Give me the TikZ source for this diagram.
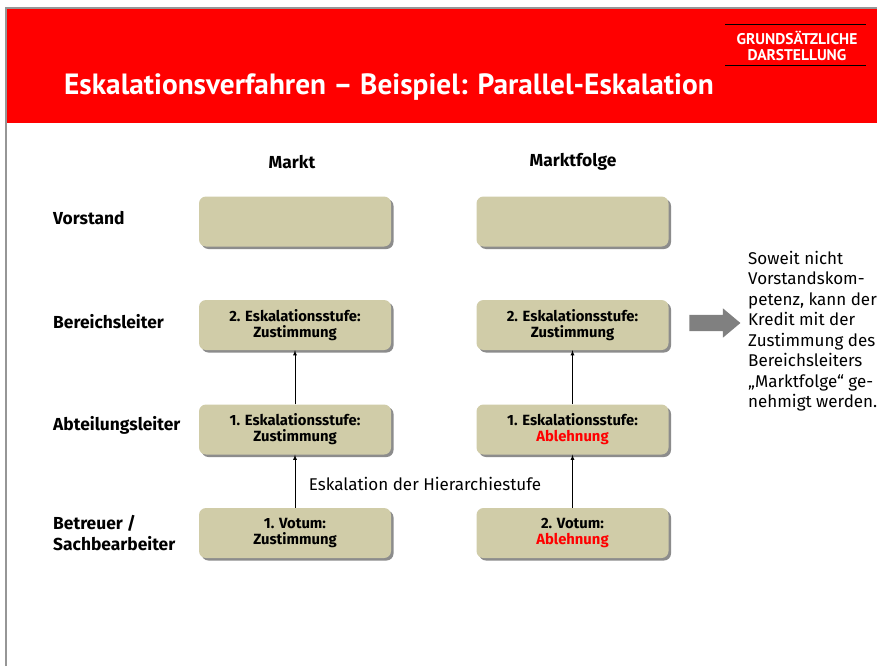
\documentclass[tikz,border=0pt]{standalone}
\usepackage{fontspec}
\setmainfont{Fira Sans}
\newfontfamily\headfont{PT Sans}
\usetikzlibrary{shadows,shapes.arrows}
\definecolor{boxtan}{RGB}{208,204,168}
\definecolor{bannerred}{RGB}{255,0,0}
\definecolor{framegray}{RGB}{150,150,150}
\definecolor{arrowgray}{RGB}{128,128,128}
\tikzset{
  stufe/.style={draw=none, fill=boxtan, rounded corners=7pt,
    minimum width=192pt, minimum height=50pt, inner sep=0pt,
    align=center, font=\bfseries\fontsize{14.8}{16}\selectfont,
    drop shadow={shadow xshift=2.5pt, shadow yshift=-2.5pt, fill=black!45, opacity=1}},
  rowlabel/.style={anchor=west, align=left, inner sep=0pt, font=\bfseries\fontsize{17.4}{21}\selectfont},
  colhead/.style={font=\bfseries\fontsize{17.4}{19}\selectfont},
  up/.style={-latex, line width=0.8pt},
}
\begin{document}
\begin{tikzpicture}[x=1pt,y=-1pt]
\useasboundingbox (0,0) rectangle (877,666);
% frame and header banner
\fill[white] (0,0) rectangle (877,666);
\draw[framegray, line width=1.5pt] (6,666) -- (6,8) -- (877,8);
\fill[bannerred] (6.75,8.75) rectangle (877,123);
\node[anchor=base west, text=white, font=\headfont\bfseries\fontsize{29.3}{32}\selectfont, inner sep=0pt] (title) at (64,95)
  {Eskalationsverfahren – Beispiel: Parallel-Eskalation};
\draw[black, line width=1pt] (725,25) coordinate (tl) -- (866,25);
\draw[black, line width=1pt] (725,66) coordinate (bl) -- (866,66);
\node[text=white, align=center, font=\headfont\bfseries\fontsize{15.5}{16}\selectfont, inner sep=0pt] (tag) at (797,46)
  {GRUNDSÄTZLICHE\\DARSTELLUNG};
% column headings
\node[colhead] (hmarkt) at (292,162) {Markt};
\node[colhead] (hfolge) at (573,162) {Marktfolge};
% row labels
\node[rowlabel] (lv) at (53,218) {Vorstand};
\node[rowlabel] (lb) at (53,322) {Bereichsleiter};
\node[rowlabel] (la) at (53,425) {Abteilungsleiter};
\node[rowlabel] (ls) at (53,533) {Betreuer /\\Sachbearbeiter};
% Markt column
\node[stufe] (mv) at (295,221.5) {};
\node[stufe] (mb) at (295,325) {2. Eskalationsstufe:\\Zustimmung};
\node[stufe] (ma) at (295,429.5) {1. Eskalationsstufe:\\Zustimmung};
\node[stufe] (ms) at (295,533) {1. Votum:\\Zustimmung};
% Marktfolge column
\node[stufe] (fv) at (572.5,221.5) {};
\node[stufe] (fb) at (572.5,325) {2. Eskalationsstufe:\\Zustimmung};
\node[stufe] (fa) at (572.5,429.5) {1. Eskalationsstufe:\\\textcolor{bannerred}{Ablehnung}};
\node[stufe] (fs) at (572.5,533) {2. Votum:\\\textcolor{bannerred}{Ablehnung}};
% escalation arrows
\draw[up] (ms.north) -- (ma.south);
\draw[up] (ma.north) -- (mb.south);
\draw[up] (fs.north) -- (fa.south);
\draw[up] (fa.north) -- (fb.south);
\node[font=\fontsize{17}{19}\selectfont] (esk) at (425,484) {Eskalation der Hierarchiestufe};
% result arrow and note
\node[single arrow, fill=arrowgray, draw=none, minimum height=51pt, minimum width=29pt,
  single arrow head extend=6.5pt, single arrow tip angle=80, inner sep=0pt, outer sep=0pt] (res) at (710,323) {\rule{0pt}{16pt}};
\node[anchor=north west, align=left, inner sep=0pt, font=\fontsize{17}{20.5}\selectfont] (note) at (748,251)
  {Soweit nicht\\Vorstandskom-\\petenz, kann der\\Kredit mit der\\Zustimmung des\\Bereichsleiters\\„Marktfolge“ ge-\\nehmigt werden.};
\end{tikzpicture}
\end{document}
